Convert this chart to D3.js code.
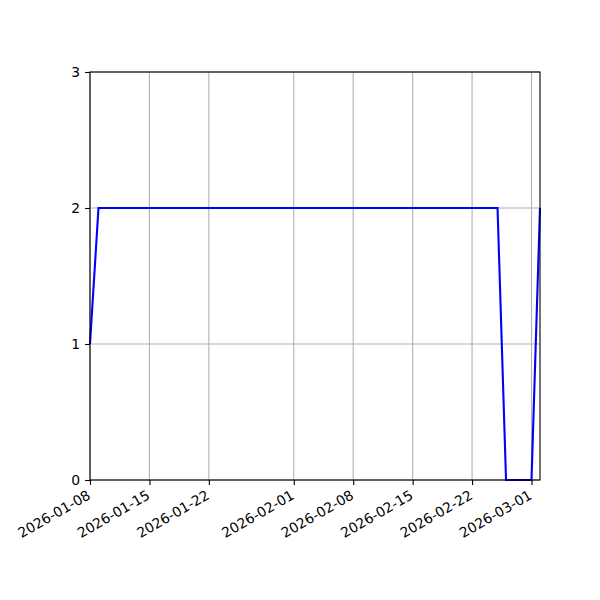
<!DOCTYPE html>
<html><head><meta charset="utf-8">
<script src="https://cdn.jsdelivr.net/npm/d3@7"></script>
<style>body{margin:0;background:#fff}svg{display:block}text{font-family:"DejaVu Sans";}</style>
</head><body><svg id="c" width="600" height="600"></svg>
<script>
const dates = ["2026-01-08","2026-01-09","2026-01-10","2026-01-11","2026-01-12","2026-01-13","2026-01-14","2026-01-15","2026-01-16","2026-01-17","2026-01-18","2026-01-19","2026-01-20","2026-01-21","2026-01-22","2026-01-23","2026-01-24","2026-01-25","2026-01-26","2026-01-27","2026-01-28","2026-01-29","2026-01-30","2026-01-31","2026-02-01","2026-02-02","2026-02-03","2026-02-04","2026-02-05","2026-02-06","2026-02-07","2026-02-08","2026-02-09","2026-02-10","2026-02-11","2026-02-12","2026-02-13","2026-02-14","2026-02-15","2026-02-16","2026-02-17","2026-02-18","2026-02-19","2026-02-20","2026-02-21","2026-02-22","2026-02-23","2026-02-24","2026-02-25","2026-02-26","2026-02-27","2026-02-28","2026-03-01","2026-03-02"];
const values = [1,2,2,2,2,2,2,2,2,2,2,2,2,2,2,2,2,2,2,2,2,2,2,2,2,2,2,2,2,2,2,2,2,2,2,2,2,2,2,2,2,2,2,2,2,2,2,2,2,0,0,0,0,2];
const xTickLabels = ["2026-01-08","2026-01-15","2026-01-22","2026-02-01","2026-02-08","2026-02-15","2026-02-22","2026-03-01"];
const yTicks = [0,1,2,3];

const parse = d3.utcParse("%Y-%m-%d");
const data = dates.map((d,i)=>({date:parse(d), value:values[i]}));
const L=90,R=540,T=72,B=480;
const svg = d3.select("#c");
const x = d3.scaleUtc().domain(d3.extent(data,d=>d.date)).range([L,R]);
const y = d3.scaleLinear().domain([0,3]).range([B,T]);
const fs = 13.9;

// grid
const g = svg.append("g");
xTickLabels.forEach(t=>{
  g.append("line").attr("x1",x(parse(t))).attr("x2",x(parse(t))).attr("y1",T).attr("y2",B)
   .attr("stroke","#b0b0b0").attr("stroke-width",1.1);
});
yTicks.forEach(t=>{
  g.append("line").attr("x1",L).attr("x2",R).attr("y1",y(t)).attr("y2",y(t))
   .attr("stroke","#b0b0b0").attr("stroke-width",1.1);
});

// line
svg.append("path").datum(data)
  .attr("d", d3.line().x(d=>x(d.date)).y(d=>y(d.value)))
  .attr("fill","none").attr("stroke","#0000ff").attr("stroke-width",2.1);

// x axis
const xa = svg.append("g").attr("transform",`translate(0,${B})`)
  .call(d3.axisBottom(x).tickValues(xTickLabels.map(parse)).tickSize(4.9).tickSizeOuter(0).tickPadding(4.9).tickFormat(d3.utcFormat("%Y-%m-%d")));
xa.select(".domain").remove();
xa.selectAll(".tick line").attr("stroke","#000").attr("stroke-width",1.1);
xa.selectAll(".tick text").attr("font-size",fs).attr("font-family","DejaVu Sans").attr("fill","#000")
  .attr("text-anchor","end").attr("dy",null).attr("y",null)
  .attr("transform","translate(1,18) rotate(-30)");

// y axis
const ya = svg.append("g").attr("transform",`translate(${L},0)`)
  .call(d3.axisLeft(y).tickValues(yTicks).tickSize(4.9).tickSizeOuter(0).tickPadding(4.9).tickFormat(d3.format("d")));
ya.select(".domain").remove();
ya.selectAll(".tick line").attr("stroke","#000").attr("stroke-width",1.1);
ya.selectAll(".tick text").attr("font-size",fs).attr("font-family","DejaVu Sans").attr("fill","#000");

// spines
svg.append("rect").attr("x",L).attr("y",T).attr("width",R-L).attr("height",B-T)
  .attr("fill","none").attr("stroke","#000").attr("stroke-width",1.1);
</script></body></html>
